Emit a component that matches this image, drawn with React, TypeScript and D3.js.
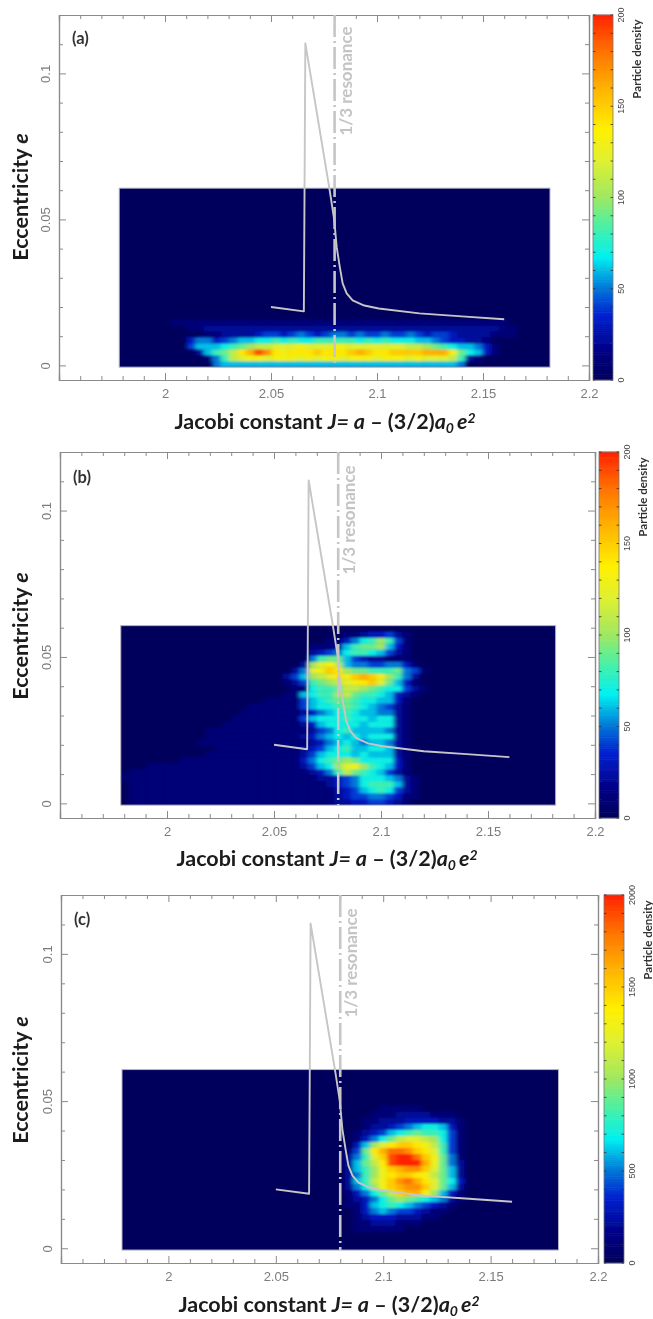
import { useEffect, useRef } from 'react';
import * as d3 from 'd3';

// density grids, bottom row first. one base-36 digit per cell, digit * unit = density
const densityA = [
  '000000000005666666666666666666666666666650000000000',
  '0000000000158bcddcdddcdcddcdddcdddcdcccb82100000000',
  '0000000002689begjhedeeefeeefgfeeffffgggd97631000000',
  '000000004666789abbcccdcccddcccccccbba98766531000000',
  '000000003553456677878778888878787776654332210000000',
  '000000000011222234434543455454454454344322221110000',
  '000000001122222222222222222222222222222222222110000',
  '000000111111111111111111111111111111111111111100000',
];

const densityB = [
  '0111111111111111111111111223344321000',
  '0111111111111111111111111234455431100',
  '0111111111111111111111111234678742100',
  '0111111111111111111111112345788862100',
  '1111111111111111111111122345777652100',
  '01111111111111111111112358b9876421000',
  '0001111111111111111112467acda87631000',
  '00000001111111111111135789a9777731000',
  '0000000000111111111112467776766621000',
  '0000000000011111111112346786677621000',
  '0000000001111111111111235676566521000',
  '0000000000111111111112356767677721000',
  '0000000000111111111111245786666521000',
  '0000000000001111111112367777677721000',
  '0000000000000111111114677787767721000',
  '0000000000000011111112356787665521000',
  '0000000000000001111114677898765421000',
  '0000000000000000011114678998776631000',
  '0000000000000000000116788ab9887632100',
  '00000000000000000000117889bba987742100',
  '000000000000000000012489abcdefc9631000',
  '0000000000000000000246abcedfgfda852000',
  '0000000000000000000025cdfea99888954100',
  '0000000000000000000002acdb655445531000',
  '00000000000000000000005899643221110000',
  '00000000000000000000002345788764210000',
  '000000000000000000000011126899a6310000',
  '000000000000000000000000113578a8410000',
  '00000000000000000000000000112334210000',
];

const densityC = [
  '',
  '',
  '',
  '00000000000000000000000000011111100000000',
  '00000000000000000000000000011222111000000',
  '00000000000000000000000000012333222110000',
  '00000000000000000000000000013565443211000',
  '00000000000000000000000000113678765432100',
  '00000000000000000000000000123579a98765210',
  '0000000000000000000000000013579bfggda6310',
  '00000000000000000000000000257adfghhfc9620',
  '00000000000000000000000000268bdfhigec9730',
  '00000000000000000000000000258adeffedb9620',
  '00000000000000000000000000268adfghhfc9620',
  '00000000000000000000000000269bejkkkgd9520',
  '00000000000000000000000000258cfjkkifd9510',
  '00000000000000000000000000149egiihfec8410',
  '00000000000000000000000000036aceffedb8410',
  '00000000000000000000000000013579bccba7410',
  '00000000000000000000000000012346789887410',
  '00000000000000000000000000001223456776310',
  '00000000000000000000000000001122233332210',
  '00000000000000000000000000000111222211100',
  '00000000000000000000000000000011111000000',
];

// resonance curve, J and e
const curveJ = [2.05, 2.0655, 2.0662, 2.0777, 2.0798, 2.081, 2.0825, 2.0838, 2.0857, 2.0885, 2.094, 2.1008, 2.12, 2.14, 2.16];
const curveE = [0.02, 0.0185, 0.1103, 0.0599, 0.05, 0.0404, 0.0335, 0.0281, 0.0247, 0.0223, 0.0205, 0.0195, 0.0178, 0.0168, 0.0158];

const xMajor = [2, 2.05, 2.1, 2.15, 2.2];
const xMinor = [1.96, 1.97, 1.98, 1.99, 2.01, 2.02, 2.03, 2.04, 2.06, 2.07, 2.08, 2.09, 2.11, 2.12, 2.13, 2.14, 2.16, 2.17, 2.18, 2.19];
const yMajor = [0, 0.05, 0.1];
const yMinor = [0.01, 0.02, 0.03, 0.04, 0.06, 0.07, 0.08, 0.09, 0.11];

const stopValues = [0, 15, 35, 50, 67, 85, 100, 120, 137, 160, 180, 200];
const stopColors = ['#00005c', '#000084', '#0020d0', '#0078d8', '#00f0f0', '#50f0a0', '#a0e860', '#e0f030', '#fff000', '#ffb000', '#ff7000', '#ff2000'];

const panels = [
  { name: '(a)', grid: densityA, unit: 10, max: 200, left: 59, right: 589, top: 15, bottom: 380, barX: 593, labelY: 44, xLabelY: 429, yLabelMid: 197, resMid: 81, titleMid: 59 },
  { name: '(b)', grid: densityB, unit: 10, max: 200, left: 60, right: 595, top: 452, bottom: 818, barX: 599, labelY: 483, xLabelY: 866, yLabelMid: 636, resMid: 520, titleMid: 497 },
  { name: '(c)', grid: densityC, unit: 100, max: 2000, left: 61, right: 598, top: 895, bottom: 1263, barX: 604, labelY: 925, xLabelY: 1312, yLabelMid: 1080, resMid: 963, titleMid: 940 },
];

const COLS = 51;
const ROWS = 30;
const AXIS_COLOR = '#8a8a8a';
const LINE_COLOR = '#c6c6c6';
const CALIBRI = 'Lato, "Open Sans", sans-serif';

const App = () => {
  const svgRef = useRef<SVGSVGElement>(null);

  useEffect(() => {
    const root = d3.select(svgRef.current);
    root.selectAll('*').remove();

    const defs = root.append('defs');
    defs.append('filter').attr('id', 'soft').attr('x', '-5%').attr('y', '-5%').attr('width', '110%').attr('height', '110%')
      .append('feGaussianBlur').attr('stdDeviation', '2 1');
    defs.append('filter').attr('id', 'print').attr('filterUnits', 'userSpaceOnUse')
      .attr('x', 0).attr('y', 0).attr('width', 653).attr('height', 1319)
      .append('feGaussianBlur').attr('stdDeviation', 0.45);

    const page = root.append('g').attr('filter', 'url(#print)');

    panels.forEach((p, idx) => {
      const g = page.append('g');
      const x = d3.scaleLinear().domain([1.95, 2.2]).range([p.left, p.right]);
      const y = d3.scaleLinear().domain([-0.005, 0.12]).range([p.bottom, p.top]);
      const color = d3.scaleLinear<string>()
        .domain(stopValues.map(v => v * p.max / 200))
        .range(stopColors)
        .clamp(true);

      // heat map
      const heatX0 = x(1.9784);
      const heatX1 = x(2.1816);
      const heatTop = y(0.0607);
      const heatBottom = y(-0.0006);
      const colBand = d3.scaleBand<number>().domain(d3.range(COLS)).range([heatX0, heatX1]);
      const rowBand = d3.scaleBand<number>().domain(d3.range(ROWS)).range([heatBottom, heatTop]);

      const cells = p.grid.flatMap((row, r) =>
        Array.from(row).map((ch, c) => ({ r, c, value: parseInt(ch, 36) * p.unit })),
      ).filter(d => d.value > 0);

      defs.append('clipPath').attr('id', `heat-${idx}`)
        .append('rect')
        .attr('x', heatX0).attr('y', heatTop)
        .attr('width', heatX1 - heatX0).attr('height', heatBottom - heatTop);

      g.append('rect')
        .attr('x', heatX0).attr('y', heatTop)
        .attr('width', heatX1 - heatX0).attr('height', heatBottom - heatTop)
        .attr('fill', stopColors[0]);

      g.append('g').attr('clip-path', `url(#heat-${idx})`)
        .append('g').attr('filter', 'url(#soft)')
        .selectAll('rect').data(cells).join('rect')
        .attr('x', d => colBand(d.c)!)
        .attr('y', d => rowBand(d.r)! - 0.2)
        .attr('width', colBand.bandwidth() + 0.4)
        .attr('height', rowBand.bandwidth() + 0.4)
        .attr('fill', d => color(d.value));

      g.append('rect')
        .attr('x', heatX0).attr('y', heatTop)
        .attr('width', heatX1 - heatX0).attr('height', heatBottom - heatTop)
        .attr('fill', 'none').attr('stroke', '#b4b4c4').attr('stroke-width', 1);

      // axes, ticks point inward
      const styleAxis = (sel: any) => {
        sel.selectAll('.domain').attr('stroke', AXIS_COLOR).attr('stroke-width', 1.2);
        sel.selectAll('.tick line').attr('stroke', AXIS_COLOR).attr('stroke-width', 1);
        sel.selectAll('text')
          .attr('fill', '#7c7c7c')
          .attr('font-family', '"Liberation Sans", sans-serif')
          .attr('font-size', 13);
      };
      const bottomT = `translate(0,${p.bottom})`;
      const topT = `translate(0,${p.top})`;
      const leftT = `translate(${p.left},0)`;
      const rightT = `translate(${p.right},0)`;

      g.append('g').attr('transform', bottomT)
        .call(d3.axisBottom(x).tickValues(xMinor).tickSize(-4).tickFormat(() => ''))
        .call(styleAxis);
      g.append('g').attr('transform', bottomT)
        .call(d3.axisBottom(x).tickValues(xMajor).tickSize(-7).tickPadding(9).tickFormat(d => String(d)))
        .call(styleAxis);
      g.append('g').attr('transform', topT)
        .call(d3.axisTop(x).tickValues(xMinor).tickSize(-4).tickFormat(() => ''))
        .call(styleAxis);
      g.append('g').attr('transform', topT)
        .call(d3.axisTop(x).tickValues(xMajor).tickSize(-7).tickFormat(() => ''))
        .call(styleAxis);
      g.append('g').attr('transform', leftT)
        .call(d3.axisLeft(y).tickValues(yMinor).tickSize(-4).tickFormat(() => ''))
        .call(styleAxis);
      const yAxis = g.append('g').attr('transform', leftT)
        .call(d3.axisLeft(y).tickValues(yMajor).tickSize(-7).tickFormat(d => String(d)))
        .call(styleAxis);
      yAxis.selectAll('text')
        .attr('x', 0).attr('dy', 0).attr('text-anchor', 'middle')
        .attr('transform', 'translate(-9,0) rotate(-90)');
      g.append('g').attr('transform', rightT)
        .call(d3.axisRight(y).tickValues(yMinor).tickSize(-4).tickFormat(() => ''))
        .call(styleAxis);
      g.append('g').attr('transform', rightT)
        .call(d3.axisRight(y).tickValues(yMajor).tickSize(-7).tickFormat(() => ''))
        .call(styleAxis);

      // resonance line and curve
      g.append('line')
        .attr('x1', x(2.08)).attr('x2', x(2.08))
        .attr('y1', p.top).attr('y2', heatBottom)
        .attr('stroke', LINE_COLOR).attr('stroke-width', 2.6)
        .attr('stroke-dasharray', '22 4 2 4');

      const line = d3.line<number>()
        .x(d => x(curveJ[d]))
        .y(d => y(curveE[d]));
      g.append('path')
        .attr('d', line(d3.range(curveJ.length)))
        .attr('fill', 'none')
        .attr('stroke', LINE_COLOR)
        .attr('stroke-width', 1.9)
        .attr('stroke-linejoin', 'round');

      // labels
      g.append('text')
        .attr('x', p.left + 13).attr('y', p.labelY)
        .attr('font-family', CALIBRI).attr('font-weight', 700).attr('font-size', 16.5)
        .attr('fill', '#333')
        .text(p.name);

      g.append('text')
        .attr('transform', `translate(${x(2.08) + 17},${p.resMid}) rotate(-90)`)
        .attr('text-anchor', 'middle')
        .attr('font-family', CALIBRI).attr('font-weight', 700).attr('font-size', 17)
        .attr('fill', '#c4c4c4')
        .text('1/3 resonance');

      const yLabel = g.append('text')
        .attr('transform', `translate(28,${p.yLabelMid}) rotate(-90)`)
        .attr('text-anchor', 'middle')
        .attr('font-family', CALIBRI).attr('font-weight', 700).attr('font-size', 21.5)
        .attr('fill', '#1a1a1a');
      yLabel.append('tspan').text('Eccentricity ');
      yLabel.append('tspan').attr('font-style', 'italic').text('e');

      const xLabel = g.append('text')
        .attr('x', 325 + idx * 2).attr('y', p.xLabelY)
        .attr('text-anchor', 'middle')
        .attr('font-family', CALIBRI).attr('font-weight', 700).attr('font-size', 21.5)
        .attr('fill', '#1a1a1a');
      xLabel.append('tspan').text('Jacobi constant ');
      xLabel.append('tspan').attr('font-style', 'italic').text('J= a');
      xLabel.append('tspan').text(' \u2013 (3/2)');
      xLabel.append('tspan').attr('font-style', 'italic').text('a');
      xLabel.append('tspan').attr('font-style', 'italic').attr('font-size', 14).attr('dy', 4).text('0 ');
      xLabel.append('tspan').attr('font-style', 'italic').attr('dy', -4).text('e');
      xLabel.append('tspan').attr('font-style', 'italic').attr('font-size', 14).attr('dy', -6).text('2');

      // colour bar
      const barWidth = 20;
      const bar = d3.scaleLinear().domain([0, p.max]).range([p.bottom, p.top]);
      const barStep = p.max / 200;
      g.append('g').selectAll('rect').data(d3.range(0, p.max, barStep)).join('rect')
        .attr('x', p.barX)
        .attr('y', d => bar(d + barStep) - 0.3)
        .attr('width', barWidth)
        .attr('height', bar(0) - bar(barStep) + 0.6)
        .attr('fill', d => color(d));
      g.append('rect')
        .attr('x', p.barX).attr('y', p.top).attr('width', barWidth).attr('height', p.bottom - p.top)
        .attr('fill', 'none').attr('stroke', '#777').attr('stroke-width', 0.8);

      const barTicks = d3.range(0, p.max + 1, p.max / 20);
      g.append('g').selectAll('line').data(barTicks).join('line')
        .attr('x1', p.barX).attr('x2', p.barX + 2.5)
        .attr('y1', d => bar(d)).attr('y2', d => bar(d))
        .attr('stroke', '#333').attr('stroke-width', 0.8);
      g.append('g').selectAll('line').data(barTicks).join('line')
        .attr('x1', p.barX + barWidth - 2.5).attr('x2', p.barX + barWidth)
        .attr('y1', d => bar(d)).attr('y2', d => bar(d))
        .attr('stroke', '#333').attr('stroke-width', 0.8);
      g.append('g').selectAll('text').data(d3.range(0, p.max + 1, p.max / 4)).join('text')
        .attr('transform', d => `translate(${p.barX + barWidth + 11},${bar(d)}) rotate(-90)`)
        .attr('text-anchor', 'middle')
        .attr('font-family', '"Liberation Sans", sans-serif').attr('font-size', 9)
        .attr('fill', '#444')
        .text(d => String(d));

      g.append('text')
        .attr('transform', `translate(${p.barX + barWidth + 28},${p.titleMid}) rotate(-90)`)
        .attr('text-anchor', 'middle')
        .attr('font-family', CALIBRI).attr('font-weight', 700).attr('font-size', 11.5)
        .attr('fill', '#333')
        .text('Particle density');
    });
  }, []);

  return (
    <svg
      ref={svgRef}
      width={653}
      height={1319}
      style={{ position: 'absolute', left: 0, top: 0, display: 'block', background: '#fff' }}
    />
  );
};

export default App;
